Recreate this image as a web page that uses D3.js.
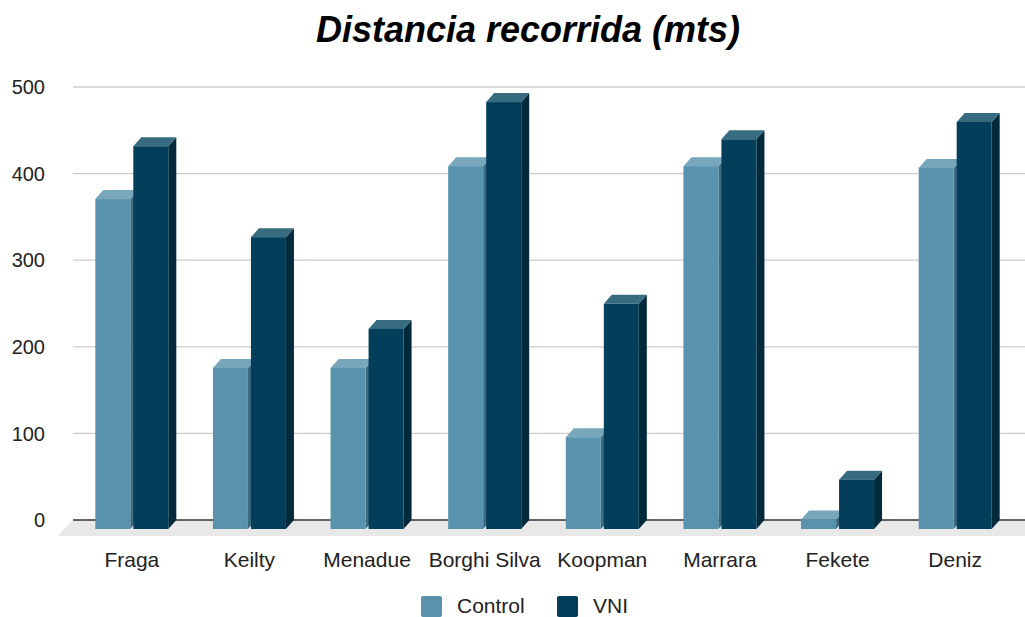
<!DOCTYPE html>
<html>
<head>
<meta charset="utf-8">
<script src="https://cdn.jsdelivr.net/npm/d3@7"></script>
<style>
html,body{margin:0;padding:0;background:#fff;}
svg{display:block;font-family:"Liberation Sans",Arial,sans-serif;}
</style>
</head>
<body>
<svg id="chart" width="1025" height="617"></svg>
<script>
const categories = ["Fraga","Keilty","Menadue","Borghi Silva","Koopman","Marrara","Fekete","Deniz"];
const seriesNames = ["Control","VNI"];
const controlValues = [381, 186, 186, 419, 106, 419, 11, 417];
const vniValues = [442, 337, 231, 493, 260, 450, 57, 470];
const yTicks = [0, 100, 200, 300, 400, 500];
const titleText = "Distancia recorrida (mts)";

const colors = {
  Control: {front:"#5892ad", top:"#78a7bc", side:"#3e6a80"},
  VNI: {front:"#033f5b", top:"#376b7f", side:"#022a3a"}
};

const svg = d3.select("#chart");
const W = 1025;
const depthX = 8, depthY = 9;
const plotLeft = 73, plotRight = 1014;

const x = d3.scaleBand().domain(categories).range([plotLeft, plotRight]).paddingInner(0).paddingOuter(0);
const xs = d3.scaleBand().domain(seriesNames).range([0, 73]).paddingInner(3/38).paddingOuter(0);
const y = d3.scaleLinear().domain([0, 500]).range([520, 87]);

// title
svg.append("text").attr("x", 528).attr("y", 42).attr("text-anchor","middle")
  .attr("font-size", 36).attr("font-weight","bold").attr("font-style","italic")
  .attr("fill","#000").text(titleText);

// floor
svg.append("polygon")
  .attr("points", [[plotLeft, y(0)], [W, y(0)], [W, y(0)+16], [plotLeft-15, y(0)+16]].map(p=>p.join(",")).join(" "))
  .attr("fill","#e8e8e8");

// gridlines
svg.append("g").selectAll("line").data(yTicks.filter(d=>d>0)).join("line")
  .attr("x1", plotLeft).attr("x2", W)
  .attr("y1", d=>y(d)).attr("y2", d=>y(d))
  .attr("stroke","#cccccc").attr("stroke-width",1.3);

// baseline
svg.append("line").attr("x1", plotLeft).attr("x2", W).attr("y1", y(0)).attr("y2", y(0))
  .attr("stroke","#333").attr("stroke-width",1.6);

// y labels
svg.append("g").selectAll("text").data(yTicks).join("text")
  .attr("x", 45).attr("y", d=>y(d)).attr("dy","0.36em")
  .attr("text-anchor","end").attr("font-size",20).attr("fill","#222")
  .text(d=>d);

// bars
const data = [];
categories.forEach((c,i)=>{
  data.push({cat:c, s:"Control", v:controlValues[i]});
  data.push({cat:c, s:"VNI", v:vniValues[i]});
});
const gBars = svg.append("g");
data.forEach(d=>{
  const cx = x(d.cat) + x.bandwidth()/2 - 36.5;
  const x0 = cx + xs(d.s);
  const w = xs.bandwidth();
  const yTop = y(d.v) + depthY;
  const yBot = y(0) + depthY;
  const c = colors[d.s];
  const g = gBars.append("g");
  g.append("polygon").attr("points", [[x0+w, yTop],[x0+w+depthX, yTop-depthY],[x0+w+depthX, yBot-depthY],[x0+w, yBot]].map(p=>p.join(",")).join(" "))
    .attr("fill", c.side);
  g.append("polygon").attr("points", [[x0, yTop],[x0+depthX, yTop-depthY],[x0+w+depthX, yTop-depthY],[x0+w, yTop]].map(p=>p.join(",")).join(" "))
    .attr("fill", c.top);
  g.append("rect").attr("x", x0).attr("y", yTop).attr("width", w).attr("height", yBot-yTop)
    .attr("fill", c.front);
});

// category labels
svg.append("g").selectAll("text").data(categories).join("text")
  .attr("x", d=>x(d)+x.bandwidth()/2).attr("y", 567)
  .attr("text-anchor","middle").attr("font-size",21).attr("fill","#222")
  .text(d=>d);

// legend
const legend = [{name:"Control", sx:421, tx:457},{name:"VNI", sx:557, tx:593}];
const lg = svg.append("g");
legend.forEach(l=>{
  lg.append("rect").attr("x", l.sx).attr("y", 596).attr("width",21).attr("height",21).attr("rx",2)
    .attr("fill", colors[l.name].front);
  lg.append("text").attr("x", l.tx).attr("y", 613).attr("font-size",21).attr("fill","#222").text(l.name);
});
</script>
</body>
</html>
